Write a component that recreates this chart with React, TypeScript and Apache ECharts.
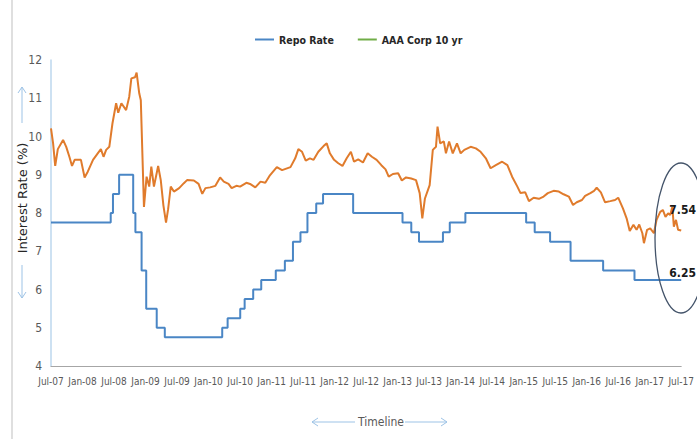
import React, { useEffect, useRef } from "react";
import * as echarts from "echarts";

// X positions are months since Jul-2007 (0 = Jul-07, 120 = Jul-17)
const tickLabels = [
  "Jul-07", "Jan-08", "Jul-08", "Jan-09", "Jul-09", "Jan-10", "Jul-10", "Jan-11", "Jul-11", "Jan-12", "Jul-12",
  "Jan-13", "Jul-13", "Jan-14", "Jul-14", "Jan-15", "Jul-15", "Jan-16", "Jul-16", "Jan-17", "Jul-17",
];

// Repo rate change points [month, rate]
const repoRate: [number, number][] = [
  [0, 7.75], [11.37, 8.0], [11.8, 8.5], [12.97, 9.0], [15.65, 8.0], [16.07, 7.5], [17.25, 6.5],
  [18.13, 5.5], [20.13, 5.0], [21.67, 4.75], [32.6, 5.0], [33.63, 5.25], [36.03, 5.5], [36.87, 5.75],
  [38.5, 6.0], [40.03, 6.25], [42.8, 6.5], [44.53, 6.75], [46.07, 7.25], [47.5, 7.5], [48.83, 8.0],
  [50.5, 8.25], [51.8, 8.5], [57.53, 8.0], [66.93, 7.75], [68.6, 7.5], [70.07, 7.25], [74.63, 7.5],
  [75.93, 7.75], [78.9, 8.0], [90.47, 7.75], [92.1, 7.5], [95.03, 7.25], [98.93, 6.75], [105.13, 6.5],
  [111.1, 6.25], [120, 6.25],
];

// AAA Corp 10 yr yield [month, value]
const aaaCorp: [number, number][] = [
  [0, 10.21], [0.4, 9.82], [0.8, 9.23], [1.3, 9.67], [2.3, 9.91], [2.9, 9.73], [3.5, 9.47], [4.0, 9.23],
  [4.5, 9.39], [5.7, 9.39], [6.4, 8.93], [7.0, 9.08], [8.0, 9.39], [8.9, 9.56], [9.5, 9.67], [10.0, 9.47],
  [10.5, 9.65], [11.1, 9.73], [11.7, 10.34], [12.4, 10.87], [12.8, 10.62], [13.4, 10.87], [14.3, 10.69],
  [14.9, 11.04], [15.3, 11.52], [16.0, 11.55], [16.3, 11.67], [16.8, 11.13], [17.1, 10.95], [17.7, 8.16],
  [18.2, 8.95], [18.7, 8.69], [19.1, 9.21], [19.6, 8.69], [20.4, 9.23], [20.9, 8.86], [21.4, 8.2],
  [21.9, 7.75], [22.3, 8.1], [22.8, 8.69], [23.4, 8.56], [24.4, 8.65], [25.3, 8.78], [25.9, 8.86],
  [27.2, 8.85], [28.1, 8.76], [28.8, 8.5], [29.4, 8.65], [30.3, 8.67], [31.3, 8.71], [32.2, 8.93],
  [32.9, 8.82], [33.8, 8.76], [34.4, 8.65], [35.3, 8.71], [36.0, 8.69], [37.2, 8.79], [37.9, 8.76],
  [38.9, 8.67], [39.9, 8.82], [40.8, 8.79], [41.6, 8.97], [43.0, 9.2], [44.0, 9.12], [45.6, 9.2],
  [46.5, 9.43], [47.1, 9.67], [47.8, 9.6], [48.5, 9.37], [49.3, 9.43], [50.0, 9.39], [50.9, 9.6],
  [51.9, 9.75], [52.5, 9.82], [53.1, 9.56], [53.9, 9.39], [54.7, 9.3], [55.5, 9.23], [56.3, 9.43],
  [57.1, 9.6], [57.7, 9.34], [58.5, 9.4], [59.4, 9.32], [60.3, 9.56], [61.1, 9.47], [62.0, 9.39],
  [62.9, 9.25], [63.7, 9.14], [64.3, 8.95], [65.1, 9.02], [66.1, 9.04], [66.8, 8.85], [67.6, 8.93],
  [68.6, 8.9], [69.5, 8.86], [70.2, 8.52], [70.7, 7.86], [71.2, 8.38], [72.1, 8.73], [72.7, 9.65],
  [73.3, 9.73], [73.6, 10.26], [74.1, 9.82], [74.8, 9.87], [75.2, 9.56], [75.8, 9.87], [76.5, 9.56],
  [77.3, 9.82], [78.0, 9.56], [78.7, 9.65], [79.9, 9.73], [80.9, 9.69], [81.8, 9.6], [82.8, 9.43],
  [83.7, 9.17], [84.7, 9.25], [85.9, 9.34], [86.9, 9.25], [87.8, 8.95], [88.8, 8.69], [89.4, 8.52],
  [90.3, 8.54], [91.0, 8.31], [91.9, 8.4], [92.9, 8.37], [93.8, 8.43], [94.6, 8.52], [95.7, 8.58],
  [96.7, 8.56], [97.6, 8.49], [98.6, 8.43], [99.4, 8.21], [100.1, 8.28], [101.1, 8.34], [101.7, 8.45],
  [102.7, 8.52], [103.4, 8.58], [103.9, 8.66], [104.7, 8.54], [105.5, 8.28], [106.5, 8.31], [107.4, 8.34],
  [108.0, 8.4], [108.9, 8.12], [109.6, 7.86], [110.2, 7.53], [110.9, 7.69], [111.5, 7.56], [112.0, 7.7],
  [112.6, 7.47], [112.9, 7.21], [113.5, 7.56], [114.1, 7.6], [114.8, 7.47], [115.3, 7.82], [116.0, 8.03],
  [116.5, 8.08], [117.0, 7.9], [117.5, 7.99], [117.9, 7.95], [118.3, 8.16], [118.6, 7.64], [119.0, 7.82],
  [119.4, 7.56], [120.0, 7.54],
];

const endLabels = ["7.54", "6.25"];

const FONT = "'DejaVu Sans Condensed', 'Liberation Sans', sans-serif";
const LEGEND_FONT = "'DejaVu Sans Condensed', 'Liberation Sans', sans-serif";
const ARROW = "#9dc3e6";

export default function App() {
  const ref = useRef<HTMLDivElement>(null);
  useEffect(() => {
    if (!ref.current) return;
    const chart = echarts.init(ref.current, undefined, { renderer: "svg" });
    chart.setOption({
      animation: false,
      backgroundColor: "#ffffff",
      legend: {
        top: 29,
        left: 250,
        icon: "rect",
        itemWidth: 19,
        itemHeight: 2,
        itemGap: 24,
        textStyle: { fontFamily: LEGEND_FONT, fontSize: 10.5, fontWeight: "bold", color: "#262626" },
        data: [
          { name: "Repo Rate", itemStyle: { color: "#4a86c5" } },
          { name: "AAA Corp 10 yr", itemStyle: { color: "#70ad47" } },
        ],
      },
      grid: { left: 51, right: 12, top: 60, bottom: 73, containLabel: false },
      xAxis: {
        type: "value",
        min: 0,
        max: 120,
        interval: 6,
        axisLine: { show: true, onZero: false, lineStyle: { color: "#a6a6a6", width: 1 } },
        axisTick: { show: false },
        splitLine: { show: false },
        axisLabel: {
          color: "#595959",
          fontFamily: FONT,
          fontSize: 10,
          margin: 10,
          formatter: (v: number) => tickLabels[Math.round(v / 6)] ?? "",
        },
      },
      yAxis: {
        type: "value",
        min: 4,
        max: 12,
        interval: 1,
        axisLine: { show: true, onZero: false, lineStyle: { color: "#bdd7ee", width: 1.5 } },
        axisTick: { show: false },
        splitLine: { show: false },
        axisLabel: { color: "#595959", fontFamily: FONT, fontSize: 12, margin: 9 },
      },
      series: [
        {
          name: "Repo Rate",
          type: "line",
          step: "end",
          data: repoRate,
          showSymbol: false,
          symbol: "none",
          lineStyle: { color: "#4a86c5", width: 2 },
          itemStyle: { color: "#4a86c5" },
        },
        {
          name: "AAA Corp 10 yr",
          type: "line",
          data: aaaCorp,
          showSymbol: false,
          symbol: "none",
          lineStyle: { color: "#e07b2c", width: 2 },
          itemStyle: { color: "#e07b2c" },
        },
      ],
      graphic: [
        { type: "line", shape: { x1: 12, y1: 0, x2: 12, y2: 439 }, style: { stroke: "#bfbfbf", lineWidth: 1 } },
        {
          type: "text",
          x: 22,
          y: 198,
          rotation: Math.PI / 2,
          style: {
            text: "Interest Rate (%)",
            align: "center",
            verticalAlign: "middle",
            fill: "#262626",
            font: "13px 'DejaVu Sans', sans-serif",
          },
        },
        { type: "line", shape: { x1: 22, y1: 123, x2: 22, y2: 87 }, style: { stroke: ARROW, lineWidth: 1 } },
        { type: "polyline", shape: { points: [[18, 93], [22, 87], [26, 93]] }, style: { stroke: ARROW, lineWidth: 1, fill: "none" } },
        { type: "line", shape: { x1: 22, y1: 265, x2: 22, y2: 298 }, style: { stroke: ARROW, lineWidth: 1 } },
        { type: "polyline", shape: { points: [[18, 292], [22, 298], [26, 292]] }, style: { stroke: ARROW, lineWidth: 1, fill: "none" } },
        { type: "line", shape: { x1: 312, y1: 422, x2: 355, y2: 422 }, style: { stroke: ARROW, lineWidth: 1 } },
        { type: "polyline", shape: { points: [[318, 418], [312, 422], [318, 426]] }, style: { stroke: ARROW, lineWidth: 1, fill: "none" } },
        { type: "line", shape: { x1: 405, y1: 422, x2: 447, y2: 422 }, style: { stroke: ARROW, lineWidth: 1 } },
        { type: "polyline", shape: { points: [[441, 418], [447, 422], [441, 426]] }, style: { stroke: ARROW, lineWidth: 1, fill: "none" } },
        {
          type: "text",
          x: 381,
          y: 422,
          style: { text: "Timeline", align: "center", verticalAlign: "middle", fill: "#595959", font: `12px ${FONT}` },
        },
        {
          type: "ellipse",
          shape: { cx: 681, cy: 238, rx: 26, ry: 75 },
          style: { stroke: "#44546a", lineWidth: 1.3, fill: "none" },
          z: 10,
        },
        {
          type: "text",
          x: 696,
          y: 210,
          style: { text: endLabels[0], align: "right", verticalAlign: "middle", fill: "#1a1a1a", font: `bold 12px ${FONT}` },
          z: 11,
        },
        {
          type: "text",
          x: 696,
          y: 273,
          style: { text: endLabels[1], align: "right", verticalAlign: "middle", fill: "#1a1a1a", font: `bold 12px ${FONT}` },
          z: 11,
        },
      ],
    });
    return () => chart.dispose();
  }, []);
  return <div ref={ref} style={{ position: "fixed", left: 0, top: 0, width: 697, height: 439 }} />;
}
